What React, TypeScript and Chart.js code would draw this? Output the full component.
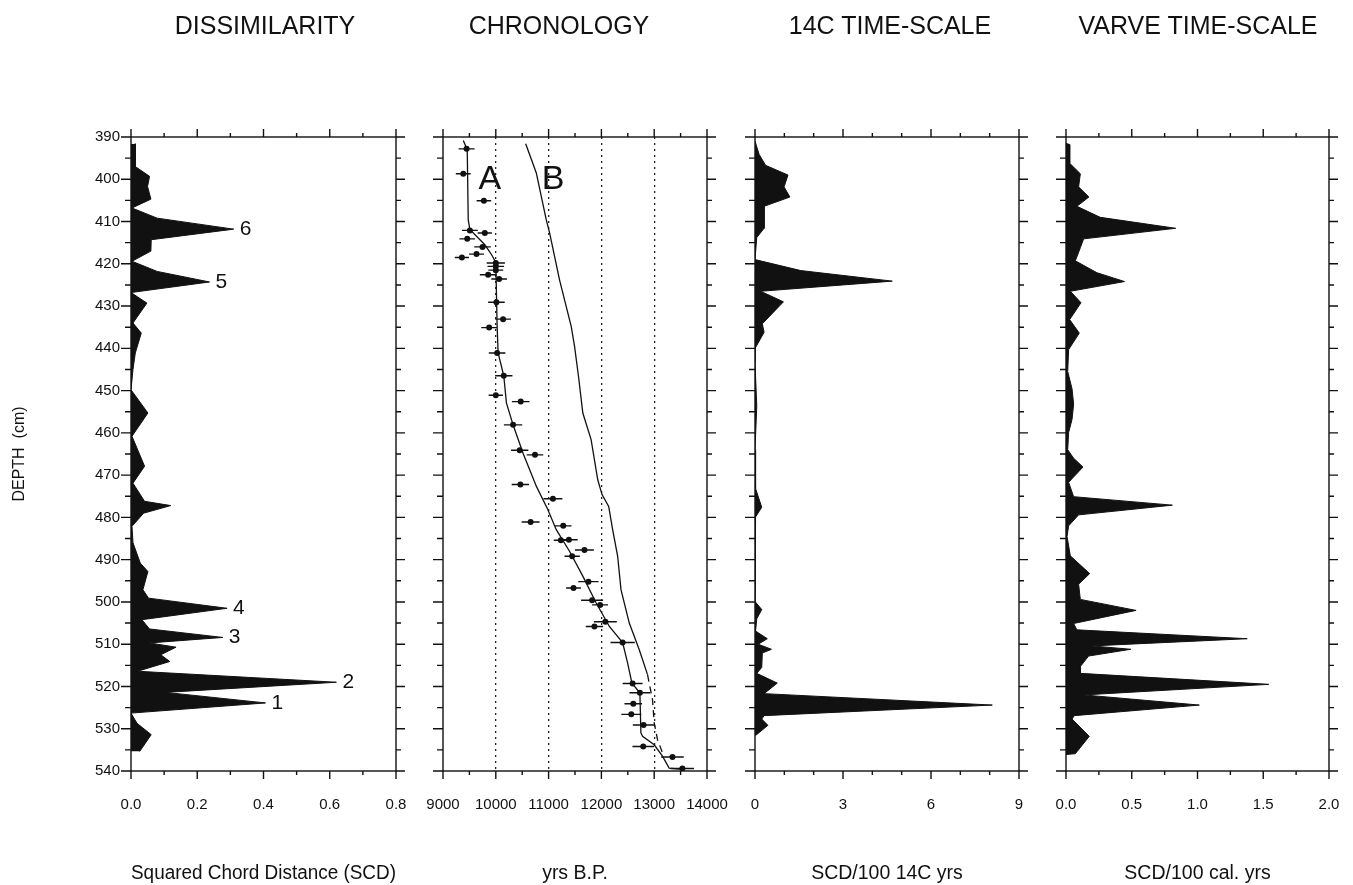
import React, { useEffect, useRef } from 'react';
import { Chart, registerables } from 'chart.js';
Chart.register(...registerables);

// ---------- DATA ----------
const depthMin = 390;
const depthMax = 540;

// Panel 1: dissimilarity (squared chord distance)
const dissimDepth = [391.6, 397, 399.3, 401.7, 404.7, 406.8, 409.2, 411.8, 414.3, 417, 419.4, 421.8, 424.3, 426.8, 429.3, 434, 436.4, 441.1, 445, 449.8, 455.3, 460.8, 467.9, 471.9, 476.2, 477.2, 479, 482.1, 486, 490.8, 492.8, 497.1, 499.1, 501.5, 504.2, 506.4, 508.4, 509.7, 510.7, 512.5, 514.1, 516.4, 519, 521.4, 523.9, 526.3, 528.7, 531.4, 535.4];
const dissimSCD = [0.013, 0.013, 0.056, 0.05, 0.06, 0.003, 0.079, 0.31, 0.061, 0.06, 0.003, 0.079, 0.237, 0, 0.048, 0.006, 0.031, 0.013, 0.006, 0, 0.051, 0.003, 0.041, 0.006, 0.041, 0.12, 0.038, 0.003, 0.006, 0.028, 0.051, 0.036, 0.053, 0.29, 0.033, 0.056, 0.277, 0.056, 0.136, 0.09, 0.117, 0.02, 0.62, 0.104, 0.406, 0, 0.018, 0.061, 0.026];
const peakLabels = ['6', '5', '4', '3', '2', '1'];
const peakDepths = [411.8, 424.3, 501.5, 508.4, 519, 523.9];
const peakValues = [0.31, 0.237, 0.29, 0.277, 0.62, 0.406];

// Panel 2: chronology
const datedDepth = [392.8, 398.7, 405.1, 412.1, 412.7, 414.1, 416.0, 417.7, 418.5, 419.8, 420.6, 421.5, 422.6, 423.6, 429.1, 433.1, 435.1, 441.1, 446.5, 451.1, 452.6, 458.1, 464.1, 465.2, 472.2, 475.6, 481.1, 482.0, 485.4, 485.3, 487.7, 489.2, 495.2, 496.7, 499.6, 500.7, 504.7, 505.8, 509.6, 519.3, 521.5, 524.1, 526.6, 529.1, 534.2, 536.7, 539.4];
const datedAge = [9447, 9384, 9774, 9509, 9792, 9459, 9748, 9635, 9358, 10000, 10000, 10000, 9855, 10063, 10012, 10138, 9874, 10025, 10151, 10000, 10472, 10327, 10453, 10742, 10465, 11082, 10660, 11277, 11233, 11384, 11679, 11446, 11754, 11472, 11824, 11975, 12075, 11868, 12402, 12591, 12729, 12604, 12566, 12799, 12792, 13346, 13534];
const datedErr = [151, 141, 138, 151, 135, 148, 157, 141, 135, 173, 157, 141, 157, 148, 157, 148, 148, 157, 164, 135, 167, 173, 164, 157, 164, 179, 170, 157, 135, 167, 179, 145, 192, 141, 208, 151, 217, 164, 230, 189, 198, 167, 189, 204, 204, 214, 220];
const curveADepth = [390.8, 393, 409.6, 411.9, 413.5, 415.5, 417.8, 419.7, 426.9, 434.8, 441.1, 446.5, 452.9, 458.1, 464.8, 472.6, 478.2, 482.9, 488, 493.9, 500.2, 505.8, 509.6, 514.5, 519.2, 521.5, 531, 531.8, 533.8, 536.5, 539.3, 539.6];
const curveAAge = [9384, 9459, 9478, 9509, 9635, 9792, 9918, 10000, 10012, 10025, 10044, 10151, 10201, 10327, 10516, 10767, 10987, 11145, 11396, 11648, 11899, 12151, 12402, 12497, 12578, 12729, 12748, 12780, 13000, 13157, 13283, 13540];
const curveBDepth = [391.6, 398.5, 409.6, 412.7, 423.8, 434.8, 439.5, 446.6, 455.3, 461.6, 471.1, 474.6, 477.4, 482.9, 489.2, 497.1, 505, 511.3, 517.2];
const curveBAge = [10566, 10767, 10956, 11019, 11207, 11428, 11491, 11566, 11648, 11805, 11931, 12012, 12138, 12213, 12308, 12371, 12528, 12717, 12874];
const curveBDashDepth = [517.2, 519.2, 523.1, 528.6, 532.6, 535.7];
const curveBDashAge = [12874, 12905, 12968, 13000, 13063, 13157];
const curveLabels = ['A', 'B'];
const curveLabelAge = [9670, 10870];
const curveLabelDepth = [400, 400];

// Panel 3: SCD per 100 14C yrs
const c14Depth = [391, 394.1, 396.7, 399, 401.8, 404.2, 406.4, 411.6, 413.8, 419, 421.6, 424.1, 426.5, 429, 434.2, 436.2, 439.8, 443.4, 453.7, 464, 473.2, 477.6, 479.9, 488.6, 499.9, 501.8, 504, 506.9, 508.7, 510, 511.2, 512.1, 515.5, 516.9, 519.2, 521.7, 524.4, 526.9, 527.7, 529.2, 531.6];
const c14Rate = [0, 0.14, 0.36, 1.125, 0.99, 1.19, 0.31, 0.31, 0.06, 0, 1.56, 4.68, 0.19, 0.97, 0.25, 0.31, 0.02, 0, 0.06, 0, 0.02, 0.23, 0.02, 0, 0, 0.23, 0.06, 0.02, 0.42, 0.11, 0.56, 0.25, 0.23, 0.06, 0.76, 0.31, 8.09, 0.31, 0.23, 0.44, 0.02];

// Panel 4: SCD per 100 calendar yrs
const varveDepth = [391.5, 391.8, 396.2, 398.7, 401.8, 404.2, 406.4, 409, 411.6, 414.1, 416.2, 419.3, 422.1, 424.2, 426.5, 429.2, 433.2, 436.4, 440.3, 445.5, 449.6, 453.2, 456.8, 459.9, 464, 466, 468.1, 471.7, 475.1, 477.1, 479.4, 482, 484.5, 489.1, 493.3, 495.8, 499.4, 502, 505.1, 506.6, 508.7, 510.4, 511.2, 512.8, 515.3, 516.9, 519.5, 522, 524.4, 526.9, 527.7, 531.8, 535.9, 536.1];
const varveRate = [0, 0.028, 0.028, 0.109, 0.096, 0.174, 0.083, 0.26, 0.834, 0.134, 0.109, 0.071, 0.235, 0.445, 0.033, 0.114, 0.028, 0.101, 0.02, 0.013, 0.046, 0.058, 0.046, 0.02, 0.013, 0.058, 0.129, 0.02, 0.058, 0.809, 0.096, 0.02, 0.008, 0.033, 0.18, 0.096, 0.109, 0.533, 0.058, 0.083, 1.378, 0.197, 0.493, 0.172, 0.109, 0.109, 1.542, 0.134, 1.014, 0.063, 0.046, 0.177, 0.071, 0];

const panelTitles = ['DISSIMILARITY', 'CHRONOLOGY', '14C TIME-SCALE', 'VARVE TIME-SCALE'];
const axisTitles = ['Squared Chord Distance (SCD)', 'yrs B.P.', 'SCD/100 14C yrs', 'SCD/100 cal. yrs'];
const yAxisTitle = 'DEPTH  (cm)';

// ---------- STYLE / LAYOUT ----------
const FONT = 'Liberation Sans, Arial, Helvetica, sans-serif';
const W = 1353;
const H = 885;
const PLOT_TOP = 137;
const X_AXIS_H = 114;
const INK = '#111';

const pts = (xs: number[], ys: number[]) => xs.map((x, i) => ({ x, y: ys[i] }));

function framePlugin(xMajor: number, xMinor: number) {
  return {
    id: 'frame',
    afterDraw(chart: any) {
      const { ctx, chartArea: a, scales } = chart;
      const xs = scales.x;
      const ys = scales.y;
      ctx.save();
      ctx.strokeStyle = INK;
      ctx.lineWidth = 1.4;
      ctx.strokeRect(a.left, a.top, a.right - a.left, a.bottom - a.top);
      ctx.beginPath();
      const nx = Math.round((xs.max - xs.min) / xMinor);
      for (let i = 0; i <= nx; i++) {
        const v = xs.min + i * xMinor;
        const major = Math.abs(v / xMajor - Math.round(v / xMajor)) < 1e-6;
        const len = major ? 8 : 4;
        const px = xs.getPixelForValue(v);
        ctx.moveTo(px, a.top);
        ctx.lineTo(px, a.top - len);
        ctx.moveTo(px, a.bottom);
        ctx.lineTo(px, a.bottom + len);
      }
      const ny = Math.round((depthMax - depthMin) / 5);
      for (let i = 0; i <= ny; i++) {
        const v = depthMin + i * 5;
        const major = v % 10 === 0;
        const py = ys.getPixelForValue(v);
        ctx.moveTo(a.left, py);
        ctx.lineTo(a.left - (major ? 10 : 6), py);
        ctx.moveTo(a.right, py);
        ctx.lineTo(a.right + (major ? 9 : 5), py);
      }
      ctx.stroke();
      ctx.restore();
    },
  };
}

function textPlugin(texts: string[], xv: number[], yv: number[], size: number, dx: number) {
  return {
    id: 'texts',
    afterDatasetsDraw(chart: any) {
      const { ctx, scales } = chart;
      ctx.save();
      ctx.fillStyle = INK;
      ctx.font = `${size}px ${FONT}`;
      ctx.textAlign = 'left';
      ctx.textBaseline = 'middle';
      texts.forEach((t, i) => {
        ctx.fillText(t, scales.x.getPixelForValue(xv[i]) + dx, scales.y.getPixelForValue(yv[i]));
      });
      ctx.restore();
    },
  };
}

function errPlugin() {
  return {
    id: 'errbars',
    afterDatasetsDraw(chart: any) {
      const { ctx, scales } = chart;
      ctx.save();
      ctx.strokeStyle = INK;
      ctx.lineWidth = 1.4;
      ctx.beginPath();
      datedDepth.forEach((d, i) => {
        const py = scales.y.getPixelForValue(d);
        ctx.moveTo(scales.x.getPixelForValue(datedAge[i] - datedErr[i]), py);
        ctx.lineTo(scales.x.getPixelForValue(datedAge[i] + datedErr[i]), py);
      });
      ctx.stroke();
      ctx.restore();
    },
  };
}

type PanelDef = {
  canvasLeft: number;
  canvasWidth: number;
  padLeft: number;
  padRight: number;
  showY: boolean;
  xMin: number;
  xMax: number;
  xStep: number;
  xMinor: number;
  fmt: (v: number) => string;
  title: string;
  datasets: any[];
  plugins: any[];
  dottedGrid?: boolean;
};

function buildConfig(p: PanelDef): any {
  return {
    type: 'line',
    data: { datasets: p.datasets },
    plugins: [framePlugin(p.xStep, p.xMinor), ...p.plugins],
    options: {
      responsive: false,
      animation: false,
      indexAxis: 'y',
      events: [],
      layout: { padding: { left: p.padLeft, right: p.padRight, top: PLOT_TOP, bottom: 0 } },
      plugins: { legend: { display: false }, tooltip: { enabled: false }, title: { display: false } },
      scales: {
        x: {
          type: 'linear',
          position: 'bottom',
          min: p.xMin,
          max: p.xMax,
          afterFit: (s: any) => {
            s.height = X_AXIS_H;
          },
          ticks: {
            stepSize: p.xStep,
            padding: 2,
            color: INK,
            font: { family: FONT, size: 15 },
            maxRotation: 0,
            autoSkip: false,
            callback: (v: any) => p.fmt(Number(v)),
          },
          grid: {
            display: !!p.dottedGrid,
            drawTicks: true,
            tickLength: 23,
            tickColor: 'rgba(0,0,0,0)',
            drawOnChartArea: true,
            lineWidth: 1.3,
            color: (c: any) =>
              c.tick && (c.tick.value === p.xMin || c.tick.value === p.xMax) ? 'rgba(0,0,0,0)' : '#222',
          },
          border: { display: false, dash: [2, 4] },
          title: {
            display: true,
            text: p.title,
            color: INK,
            font: { family: FONT, size: 19.5 },
            padding: { top: 0, bottom: 0 },
          },
        },
        y: {
          type: 'linear',
          position: 'left',
          reverse: true,
          min: depthMin,
          max: depthMax,
          display: p.showY,
          afterFit: (s: any) => {
            if (p.showY) s.width = 131;
          },
          ticks: {
            stepSize: 10,
            padding: 11,
            color: INK,
            font: { family: FONT, size: 15 },
          },
          grid: { display: false, drawTicks: false },
          border: { display: false },
          title: {
            display: true,
            text: yAxisTitle,
            color: INK,
            font: { family: FONT, size: 16 },
            padding: { top: 10, bottom: 0 },
          },
        },
      },
    },
  };
}

const areaStyle = {
  borderColor: INK,
  backgroundColor: INK,
  borderWidth: 1,
  pointRadius: 0,
  tension: 0,
  fill: 'origin',
};

const lineStyle = {
  borderColor: INK,
  borderWidth: 1.3,
  pointRadius: 0,
  tension: 0,
  fill: false,
};

const panels: PanelDef[] = [
  {
    canvasLeft: 0,
    canvasWidth: 420,
    padLeft: 0,
    padRight: 24,
    showY: true,
    xMin: 0,
    xMax: 0.8,
    xStep: 0.2,
    xMinor: 0.1,
    fmt: (v) => v.toFixed(1),
    title: axisTitles[0],
    datasets: [{ ...areaStyle, data: pts(dissimSCD, dissimDepth) }],
    plugins: [textPlugin(peakLabels, peakValues, peakDepths, 21, 6)],
  },
  {
    canvasLeft: 420,
    canvasWidth: 310,
    padLeft: 23,
    padRight: 23,
    showY: false,
    xMin: 9000,
    xMax: 14000,
    xStep: 1000,
    xMinor: 500,
    fmt: (v) => String(Math.round(v)),
    title: axisTitles[1],
    dottedGrid: true,
    datasets: [
      { ...lineStyle, data: pts(curveAAge, curveADepth) },
      { ...lineStyle, data: pts(curveBAge, curveBDepth) },
      { ...lineStyle, borderDash: [7, 5], data: pts(curveBDashAge, curveBDashDepth) },
      {
        ...lineStyle,
        showLine: false,
        pointRadius: 3,
        pointBackgroundColor: INK,
        pointBorderWidth: 0,
        data: pts(datedAge, datedDepth),
      },
    ],
    plugins: [errPlugin(), textPlugin(curveLabels, curveLabelAge, curveLabelDepth, 34, 0)],
  },
  {
    canvasLeft: 730,
    canvasWidth: 310,
    padLeft: 25,
    padRight: 21,
    showY: false,
    xMin: 0,
    xMax: 9,
    xStep: 3,
    xMinor: 1,
    fmt: (v) => String(Math.round(v)),
    title: axisTitles[2],
    datasets: [{ ...areaStyle, data: pts(c14Rate, c14Depth) }],
    plugins: [],
  },
  {
    canvasLeft: 1040,
    canvasWidth: 313,
    padLeft: 26,
    padRight: 24,
    showY: false,
    xMin: 0,
    xMax: 2,
    xStep: 0.5,
    xMinor: 0.25,
    fmt: (v) => v.toFixed(1),
    title: axisTitles[3],
    datasets: [{ ...areaStyle, data: pts(varveRate, varveDepth) }],
    plugins: [],
  },
];

const titleCenters = [265, 559, 890, 1198];

function Panel({ def }: { def: PanelDef }) {
  const ref = useRef<HTMLCanvasElement | null>(null);
  useEffect(() => {
    if (!ref.current) return;
    const chart = new Chart(ref.current, buildConfig(def));
    return () => chart.destroy();
  }, [def]);
  return (
    <canvas
      ref={ref}
      width={def.canvasWidth}
      height={H}
      style={{ position: 'absolute', left: def.canvasLeft, top: 0, width: def.canvasWidth, height: H }}
    />
  );
}

export default function App() {
  return (
    <div style={{ position: 'fixed', left: 0, top: 0, width: W, height: H, background: '#fff', overflow: 'hidden' }}>
      {panels.map((p, i) => (
        <Panel key={i} def={p} />
      ))}
      {panelTitles.map((t, i) => (
        <div
          key={t}
          style={{
            position: 'absolute',
            left: titleCenters[i],
            top: 12,
            transform: 'translateX(-50%)',
            whiteSpace: 'nowrap',
            fontFamily: FONT,
            fontSize: 25,
            lineHeight: '26px',
            color: INK,
          }}
        >
          {t}
        </div>
      ))}
    </div>
  );
}
